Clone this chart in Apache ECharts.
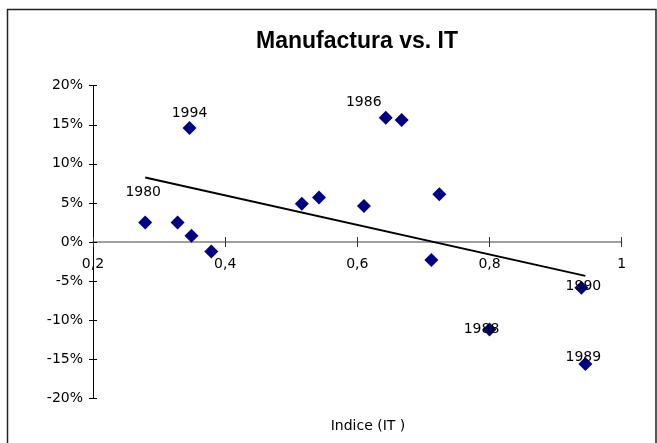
<!DOCTYPE html>
<html>
<head>
<meta charset="utf-8">
<script src="https://cdn.jsdelivr.net/npm/echarts@6/dist/echarts.min.js"></script>
<style>html,body{margin:0;padding:0;background:#fff;}#c{width:657px;height:443px;}</style>
</head>
<body>
<div id="c"></div>
<script>
// Data
var itIndex = [0.279, 0.328, 0.346, 0.349, 0.379, 0.516, 0.542, 0.643, 0.667, 0.610, 0.724, 0.712, 0.939, 0.800, 0.945];
var manufactura = [0.025, 0.025, 0.146, 0.008, -0.012, 0.049, 0.057, 0.159, 0.156, 0.046, 0.061, -0.023, -0.0585, -0.112, -0.156];
var years = ['1980', '', '1994', '', '', '', '', '1986', '', '', '', '', '1990', '1988', '1989'];
var xTicks = [0.2, 0.4, 0.6, 0.8, 1];
var yTicks = [-0.2, -0.15, -0.1, -0.05, 0, 0.05, 0.1, 0.15, 0.2];

// label placement (style, not data)
var labelOffsets = {'1980': [-2, -30], '1994': [0, -15], '1986': [-22, -15], '1990': [2, -1], '1988': [-8, 0], '1989': [-2, -7]};

// Linear trend (least squares) computed from the data
var n = itIndex.length, mx = 0, my = 0;
for (var i = 0; i < n; i++) { mx += itIndex[i]; my += manufactura[i]; }
mx /= n; my /= n;
var sxy = 0, sxx = 0;
for (i = 0; i < n; i++) { sxy += (itIndex[i] - mx) * (manufactura[i] - my); sxx += (itIndex[i] - mx) * (itIndex[i] - mx); }
var slope = sxy / sxx, icpt = my - slope * mx;
var xmin = Math.min.apply(null, itIndex), xmax = Math.max.apply(null, itIndex);
var trend = [[xmin, icpt + slope * xmin], [xmax, icpt + slope * xmax]];

var pts = itIndex.map(function (x, k) {
  var item = {value: [x, manufactura[k]]};
  if (years[k]) {
    item.label = {show: true, formatter: years[k], position: 'inside', offset: labelOffsets[years[k]] || [0, 0]};
  }
  return item;
});

var FONT = 'DejaVu Sans';
var GRID = {left: 93, right: 35.3, top: 85.7, bottom: 44.7};
var plotH = 443 - GRID.top - GRID.bottom;
var yMin = yTicks[0], yMax = yTicks[yTicks.length - 1];
// shift the x axis up so it crosses the value axis at 0
var zeroShift = -plotH * (0 - yMin) / (yMax - yMin);

var chart = echarts.init(document.getElementById('c'), null, {renderer: 'canvas'});
chart.setOption({
  animation: false,
  backgroundColor: '#fff',
  title: [
    {text: 'Manufactura vs. IT', left: 352, top: 25, textAlign: 'center',
     textStyle: {fontFamily: 'Liberation Sans, Arial', fontWeight: 'bold', fontSize: 23, color: '#000'}},
    {text: 'Indice (IT )', left: 363, top: 414, textAlign: 'center',
     textStyle: {fontFamily: FONT, fontWeight: 'normal', fontSize: 14, color: '#000'}}
  ],
  graphic: [{type: 'rect', shape: {x: 7.5, y: 9.5, width: 648.5, height: 450}, style: {fill: 'none', stroke: '#222', lineWidth: 1.5}, silent: true}],
  grid: GRID,
  xAxis: [{
    type: 'value', min: xTicks[0], max: xTicks[xTicks.length - 1], interval: 0.2,
    position: 'bottom', offset: zeroShift,
    axisLine: {onZero: false, lineStyle: {color: '#808080', width: 1.5}},
    axisTick: {show: true, inside: false, length: 5, lineStyle: {color: '#333'}},
    axisLabel: {margin: 15, fontFamily: FONT, fontSize: 14, color: '#000', showMinLabel: true, showMaxLabel: true,
      formatter: function (v) { return String(Math.round(v * 10) / 10).replace('.', ','); }},
    splitLine: {show: false}
  }, {
    type: 'value', min: xTicks[0], max: xTicks[xTicks.length - 1], interval: 0.2,
    position: 'bottom', offset: zeroShift,
    axisLine: {show: false, onZero: false}, axisLabel: {show: false}, splitLine: {show: false},
    axisTick: {show: true, inside: true, length: 5, lineStyle: {color: '#333'}}
  }],
  yAxis: [{
    type: 'value', min: yMin, max: yMax, interval: 0.05,
    axisLine: {show: true, onZero: false, lineStyle: {color: '#000', width: 1}},
    axisTick: {show: true, inside: false, length: 4, lineStyle: {color: '#000'}},
    axisLabel: {margin: 10, fontFamily: FONT, fontSize: 14, color: '#000',
      formatter: function (v) { return Math.round(v * 100) + '%'; }},
    splitLine: {show: false}
  }, {
    type: 'value', min: yMin, max: yMax, interval: 0.05, position: 'left',
    axisLine: {show: false, onZero: false}, axisLabel: {show: false}, splitLine: {show: false},
    axisTick: {show: true, inside: true, length: 4, lineStyle: {color: '#000'}}
  }],
  series: [{
    type: 'line', data: trend, symbol: 'none', lineStyle: {color: '#000', width: 2}, z: 3, silent: true
  }, {
    type: 'scatter', data: pts, symbol: 'diamond', symbolSize: 14,
    itemStyle: {color: '#000080', opacity: 1}, z: 4,
    label: {show: false, fontFamily: FONT, fontSize: 14, color: '#000'}
  }]
});
</script>
</body>
</html>
